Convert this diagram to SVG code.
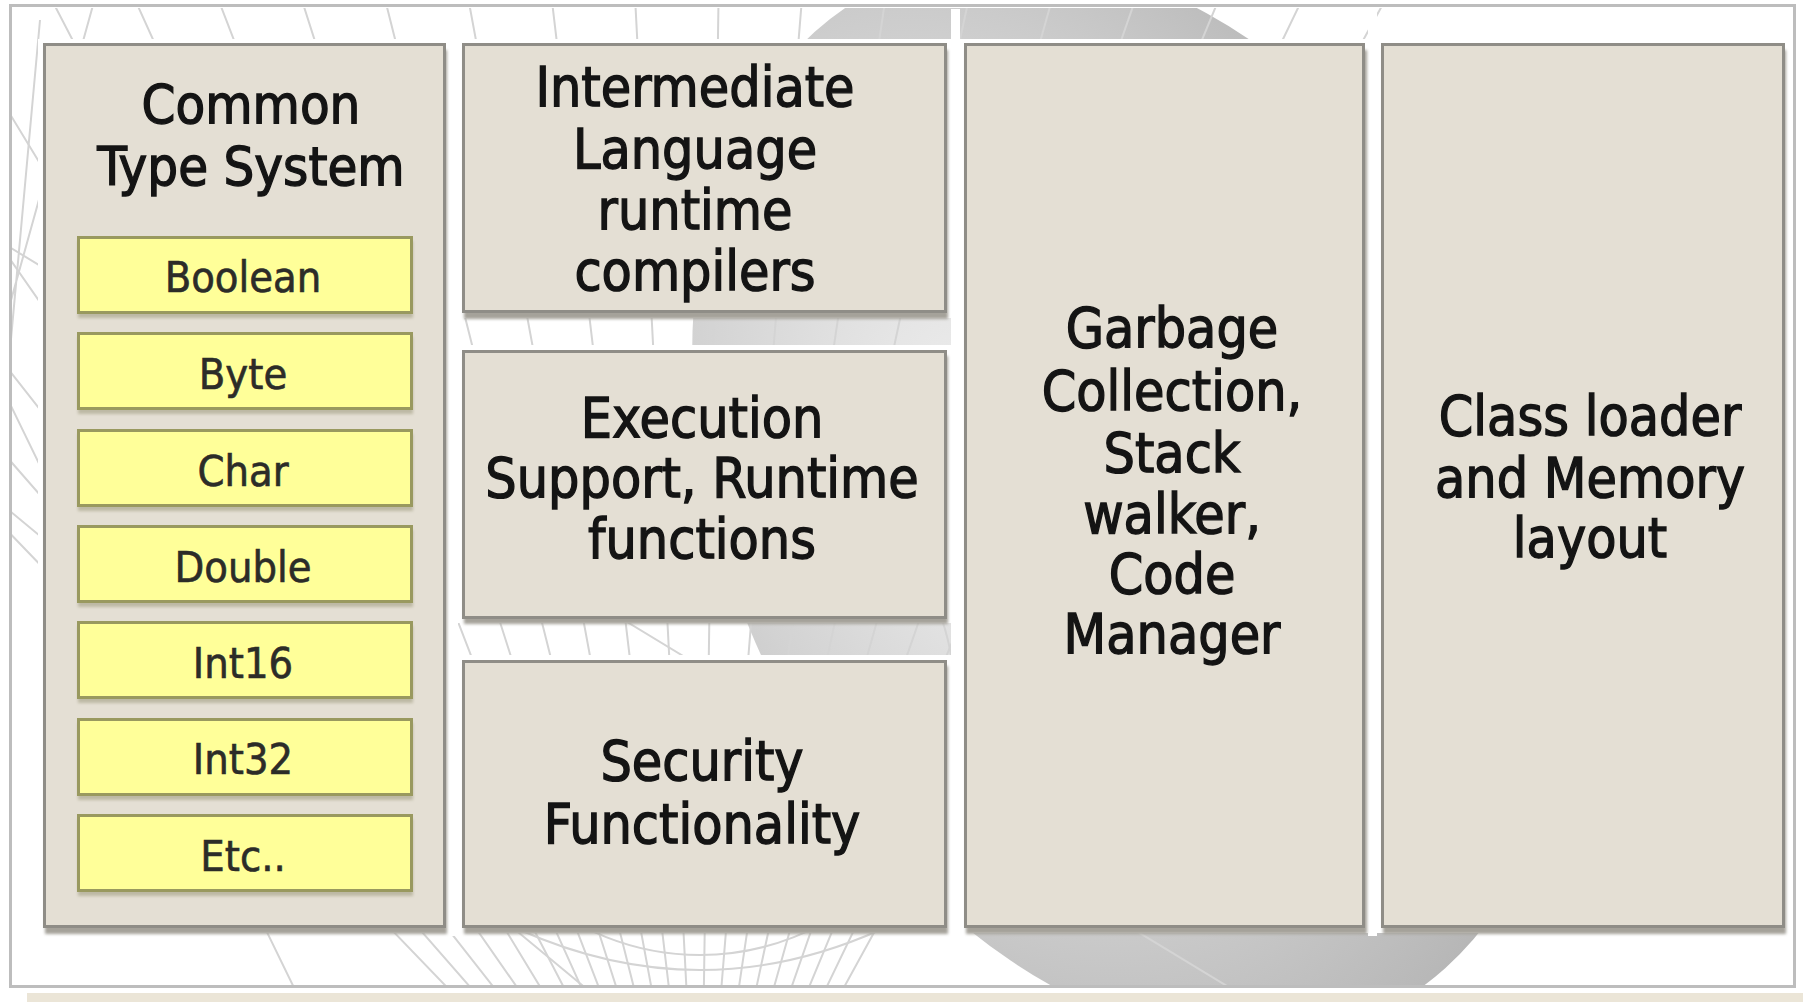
<svg xmlns="http://www.w3.org/2000/svg" width="1803" height="1002" viewBox="0 0 1803 1002">
  <defs>
    <style>
      .box { fill: #e4dfd4; stroke: #8f8d87; stroke-width: 3; }
      .halo { fill: #ffffff; }
      .shadow { fill: #a5a29a; filter: url(#soft); }
      .ybox { fill: #ffff99; stroke: #99995f; stroke-width: 3; }
      .yshadow { fill: #bdb9a4; filter: url(#soft); }
      .t { font-family: 'DejaVu Sans Condensed', 'DejaVu Sans', sans-serif; font-stretch: condensed; fill: #141414; stroke: #141414; stroke-width: 1.3; text-anchor: middle; }
      .big { font-size: 55px; }
      .title { font-size: 54px; }
      .small { font-size: 43px; fill: #2c2c28; stroke: #2c2c28; stroke-width: 0.6; }
      .wire { fill: none; stroke: #d4d4d4; stroke-width: 2; }
    </style>
    <filter id="soft" x="-5%" y="-5%" width="110%" height="110%">
      <feGaussianBlur stdDeviation="1.5"/>
    </filter>
    <radialGradient id="globe" cx="0.38" cy="0.42" r="0.65">
      <stop offset="0" stop-color="#f3f3f3"/>
      <stop offset="0.55" stop-color="#d2d2d2"/>
      <stop offset="1" stop-color="#b3b3b3"/>
    </radialGradient>
    <clipPath id="inner">
      <rect x="12" y="8" width="1781" height="977"/>
    </clipPath>
  </defs>

  <!-- page -->
  <rect width="1803" height="1002" fill="#ffffff"/>
  <rect x="27" y="993" width="1776" height="9" fill="#ebe5d7"/>

  <!-- decorative globe backdrop -->
  <g clip-path="url(#inner)">
    <ellipse cx="1130" cy="500" rx="400" ry="570" fill="url(#globe)" transform="rotate(-26 1130 500)"/>
    <g class="wire">
      <path d="M700 1250 L-600 -100 M700 1250 L-480 -100 M700 1250 L-360 -100 M700 1250 L-240 -100 M700 1250 L-120 -100 M700 1250 L0 -100 M700 1250 L90 -100 M700 1250 L180 -100 M700 1250 L270 -100 M700 1250 L360 -100 M700 1250 L450 -100 M700 1250 L540 -100 M700 1250 L630 -100 M700 1250 L720 -100 M700 1250 L810 -100 M700 1250 L900 -100 M700 1250 L990 -100 M700 1250 L1080 -100 M700 1250 L1170 -100 M700 1250 L1260 -100 M700 1250 L1350 -100 M700 1250 L1440 -100"/>
      <path d="M-200 120 L1250 1000 M-100 420 L600 1000 M100 -20 L-100 700 M-60 260 L300 1000 M40 20 L-40 900"/>
      <circle cx="700" cy="700" r="255"/>
      <path d="M180 120 Q260 60 380 110"/>
      <path d="M520 930 Q700 1010 880 930"/>
    </g>
  </g>

  <!-- frame -->
  <rect x="10.5" y="5.5" width="1784" height="981" fill="none" stroke="#bdbdbd" stroke-width="3"/>

  <!-- white gutters between columns -->
  <g class="halo">
    <rect x="449" y="9" width="9" height="927"/>
    <rect x="951" y="9" width="9" height="927"/>
    <rect x="1368" y="9" width="9" height="927"/>
  </g>

  <!-- Common Type System -->
  <g id="cts">
    <rect class="halo" x="38" y="39" width="412" height="894"/>
    <rect class="shadow" x="45" y="50" width="402" height="884"/>
    <rect class="box" x="44.5" y="44.5" width="400" height="882"/>
    <text class="t title" x="251" y="123">Common</text>
    <text class="t title" x="251" y="185">Type System</text>
  </g>

  <g id="t-boolean">
    <rect class="yshadow" x="78" y="241" width="335" height="77"/>
    <rect class="ybox" x="78.5" y="237.5" width="333" height="75"/>
    <text class="t small" x="243" y="292">Boolean</text>
  </g>
  <g id="t-byte">
    <rect class="yshadow" x="78" y="337" width="335" height="77"/>
    <rect class="ybox" x="78.5" y="333.5" width="333" height="75"/>
    <text class="t small" x="243" y="389">Byte</text>
  </g>
  <g id="t-char">
    <rect class="yshadow" x="78" y="434" width="335" height="77"/>
    <rect class="ybox" x="78.5" y="430.5" width="333" height="75"/>
    <text class="t small" x="243" y="486">Char</text>
  </g>
  <g id="t-double">
    <rect class="yshadow" x="78" y="530" width="335" height="77"/>
    <rect class="ybox" x="78.5" y="526.5" width="333" height="75"/>
    <text class="t small" x="243" y="582">Double</text>
  </g>
  <g id="t-int16">
    <rect class="yshadow" x="78" y="626" width="335" height="77"/>
    <rect class="ybox" x="78.5" y="622.5" width="333" height="75"/>
    <text class="t small" x="243" y="678">Int16</text>
  </g>
  <g id="t-int32">
    <rect class="yshadow" x="78" y="723" width="335" height="77"/>
    <rect class="ybox" x="78.5" y="719.5" width="333" height="75"/>
    <text class="t small" x="243" y="774">Int32</text>
  </g>
  <g id="t-etc">
    <rect class="yshadow" x="78" y="819" width="335" height="77"/>
    <rect class="ybox" x="78.5" y="815.5" width="333" height="75"/>
    <text class="t small" x="243" y="871">Etc..</text>
  </g>

  <!-- Intermediate Language runtime compilers -->
  <g id="il">
    <rect class="halo" x="457" y="39" width="494" height="279"/>
    <rect class="shadow" x="464" y="50" width="484" height="269"/>
    <rect class="box" x="463.5" y="44.5" width="482" height="267"/>
    <text class="t big" x="695" y="106">Intermediate</text>
    <text class="t big" x="695" y="168">Language</text>
    <text class="t big" x="695" y="229">runtime</text>
    <text class="t big" x="695" y="290">compilers</text>
  </g>

  <!-- Execution Support -->
  <g id="exec">
    <rect class="halo" x="457" y="345" width="494" height="278"/>
    <rect class="shadow" x="464" y="356" width="484" height="268"/>
    <rect class="box" x="463.5" y="351.5" width="482" height="266"/>
    <text class="t big" x="702" y="437">Execution</text>
    <text class="t big" x="702" y="497">Support, Runtime</text>
    <text class="t big" x="702" y="558">functions</text>
  </g>

  <!-- Security -->
  <g id="security">
    <rect class="halo" x="457" y="655" width="494" height="278"/>
    <rect class="shadow" x="464" y="666" width="484" height="268"/>
    <rect class="box" x="463.5" y="661.5" width="482" height="265"/>
    <text class="t big" x="702" y="780">Security</text>
    <text class="t big" x="702" y="843">Functionality</text>
  </g>

  <!-- Garbage Collection -->
  <g id="gc">
    <rect class="halo" x="959" y="39" width="411" height="894"/>
    <rect class="shadow" x="966" y="50" width="401" height="884"/>
    <rect class="box" x="965.5" y="44.5" width="398" height="882"/>
    <text class="t big" x="1172" y="347">Garbage</text>
    <text class="t big" x="1172" y="410">Collection,</text>
    <text class="t big" x="1172" y="472">Stack</text>
    <text class="t big" x="1172" y="533">walker,</text>
    <text class="t big" x="1172" y="593">Code</text>
    <text class="t big" x="1172" y="653">Manager</text>
  </g>

  <!-- Class loader -->
  <g id="classloader">
    <rect class="halo" x="1376" y="39" width="413" height="894"/>
    <rect class="shadow" x="1383" y="50" width="403" height="884"/>
    <rect class="box" x="1382.5" y="44.5" width="401" height="882"/>
    <text class="t big" x="1590" y="435">Class loader</text>
    <text class="t big" x="1590" y="497">and Memory</text>
    <text class="t big" x="1590" y="557">layout</text>
  </g>

  <!-- no connectors in this layered view -->
  <g id="connectors"/>
</svg>
